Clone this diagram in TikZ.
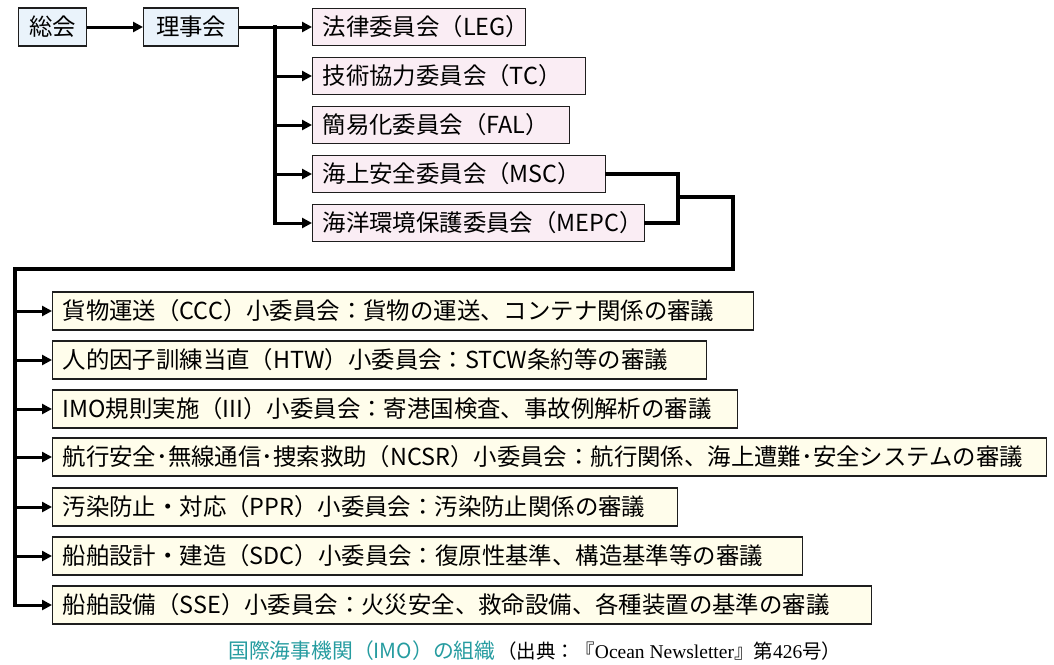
\documentclass[tikz,border=0pt]{standalone}
\usepackage{fontspec}
\setmainfont{Liberation Serif}
\newfontfamily\jp{Noto Sans CJK JP}
\usetikzlibrary{arrows.meta}
\definecolor{topblue}{RGB}{234,243,251}
\definecolor{compink}{RGB}{250,237,244}
\definecolor{subcream}{RGB}{255,253,235}
\definecolor{capteal}{RGB}{38,156,160}
\definecolor{boxline}{RGB}{30,30,30}
\tikzset{
  base/.style={draw=boxline, line width=1.4pt, inner ysep=0pt, anchor=west,
    font=\jp\fontsize{23.4}{25}\selectfont},
  topbox/.style={base, fill=topblue, inner xsep=0pt, minimum height=38pt, align=center},
  combox/.style={base, fill=compink, inner xsep=10pt, minimum height=37pt, align=left},
  subbox/.style={base, fill=subcream, inner xsep=10pt, minimum height=38pt, align=left},
  ln/.style={line width=3.8pt, line cap=rect},
  arr/.style={line width=3pt, -{Triangle[length=10pt,width=10pt]}},
}
\begin{document}
\begin{tikzpicture}[x=1pt,y=-1pt]
\useasboundingbox (0,0) rectangle (1054,664);
% top
\node[topbox, text width=68pt] (sokai) at (18,27) {総会};
\node[topbox, text width=95pt] (riji) at (143,27) {理事会};
% committees
\node[combox, text width=193pt] (leg)  at (312,27)  {法律委員会（LEG）};
\node[combox, text width=253pt] (tc)   at (312,76)  {技術協力委員会（TC）};
\node[combox, text width=237pt] (fal)  at (312,125) {簡易化委員会（FAL）};
\node[combox, text width=273pt] (msc)  at (312,174) {海上安全委員会（MSC）};
\node[combox, text width=312pt] (mepc) at (312,223) {海洋環境保護委員会（MEPC）};
% sub-committees
\node[subbox, text width=681pt] (ccc)  at (52,311) {貨物運送（CCC）小委員会：貨物の運送、コンテナ関係の審議};
\node[subbox, text width=634pt] (htw)  at (52,360) {人的因子訓練当直（HTW）小委員会：STCW条約等の審議};
\node[subbox, text width=665pt] (iii)  at (52,409) {IMO規則実施（III）小委員会：寄港国検査、事故例解析の審議};
\node[subbox, text width=974pt] (ncsr) at (52,457) {航行安全･無線通信･捜索救助（NCSR）小委員会：航行関係、海上遭難･安全システムの審議};
\node[subbox, text width=605pt] (ppr)  at (52,507) {汚染防止・対応（PPR）小委員会：汚染防止関係の審議};
\node[subbox, text width=730pt] (sdc)  at (52,556) {船舶設計・建造（SDC）小委員会：復原性基準、構造基準等の審議};
\node[subbox, text width=799pt] (sse)  at (52,605) {船舶設備（SSE）小委員会：火災安全、救命設備、各種装置の基準の審議};
% connector coordinates
\coordinate (tr) at (275,0);
\coordinate (jx) at (678,197);
\coordinate (c1) at (733,197);
\coordinate (c2) at (733,269);
\coordinate (c3) at (15,269);
\coordinate (bx) at (15,0);
% connectors
\draw[arr] (sokai.east) -- (riji.west);
\draw[arr] (riji.east) -- (leg.west);
\draw[ln] (tr |- leg.west) -- (tr |- mepc.west);
\foreach \n in {tc,fal,msc,mepc} \draw[arr] (tr |- \n.west) -- (\n.west);
\draw[ln] (msc.east) -| (jx) |- (mepc.east);
\draw[ln] (jx) -- (c1) -- (c2) -- (c3) -- (bx |- sse.west);
\foreach \n in {ccc,htw,iii,ncsr,ppr,sdc,sse} \draw[arr] (bx |- \n.west) -- (\n.west);
% caption
\node[anchor=west, inner sep=0pt] (cap) at (228,651)
  {{\jp\fontsize{20.8}{24}\selectfont\color{capteal}国際海事機関（IMO）の組織}\hspace{2pt}{\fontsize{19.5}{22}\selectfont\jp（出典：『\rmfamily Ocean Newsletter\jp』第\rmfamily 426\jp 号）}};
\end{tikzpicture}
\end{document}
